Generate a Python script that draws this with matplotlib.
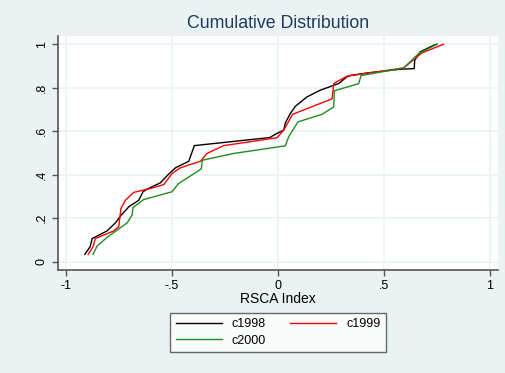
import matplotlib.pyplot as plt

# Cumulative distribution of the RSCA index
x1998 = [-0.912, -0.887, -0.877, -0.854, -0.807, -0.767, -0.744, -0.704, -0.657, -0.637,
         -0.618, -0.555, -0.516, -0.484, -0.421, -0.395, -0.039, -0.005, 0.027, 0.035,
         0.058, 0.082, 0.137, 0.200, 0.286, 0.325, 0.340, 0.420, 0.577, 0.643, 0.645,
         0.671, 0.734, 0.750]
y1998 = [0.034, 0.069, 0.107, 0.118, 0.142, 0.179, 0.210, 0.253, 0.283, 0.322,
         0.334, 0.363, 0.403, 0.432, 0.462, 0.534, 0.571, 0.590, 0.605, 0.639,
         0.681, 0.715, 0.758, 0.789, 0.819, 0.850, 0.856, 0.868, 0.885, 0.888, 0.926,
         0.965, 0.995, 1.000]

x1999 = [-0.896, -0.873, -0.862, -0.775, -0.752, -0.741, -0.720, -0.681, -0.602, -0.539,
         -0.500, -0.461, -0.366, -0.335, -0.256, -0.005, 0.027, 0.069, 0.255, 0.263,
         0.325, 0.593, 0.679, 0.781]
y1999 = [0.034, 0.069, 0.107, 0.142, 0.161, 0.245, 0.283, 0.319, 0.337, 0.355,
         0.406, 0.432, 0.462, 0.498, 0.534, 0.570, 0.605, 0.678, 0.749, 0.819,
         0.853, 0.891, 0.960, 1.000]

x2000 = [-0.873, -0.854, -0.807, -0.712, -0.689, -0.684, -0.634, -0.500, -0.469, -0.414,
         -0.362, -0.357, -0.209, 0.035, 0.050, 0.094, 0.208, 0.263, 0.266, 0.381,
         0.392, 0.593, 0.664, 0.750]
y2000 = [0.034, 0.072, 0.112, 0.179, 0.214, 0.250, 0.286, 0.322, 0.360, 0.394,
         0.427, 0.467, 0.498, 0.533, 0.574, 0.643, 0.678, 0.712, 0.786, 0.819,
         0.856, 0.891, 0.957, 1.000]

xticks = [-1, -0.5, 0, 0.5, 1]
xlabels = ['-1', '-.5', '0', '.5', '1']
yticks = [0, 0.2, 0.4, 0.6, 0.8, 1]
ylabels = ['0', '.2', '.4', '.6', '.8', '1']

bg = '#eaf2f3'
axc = '#555555'

plt.rcParams['font.family'] = 'Liberation Sans'

fig = plt.figure(figsize=(5.05, 3.73), dpi=100, facecolor=bg)
ax = fig.add_axes([0.115, 0.276, 0.871, 0.627])
ax.set_facecolor('white')

l1, = ax.plot(x1998, y1998, color='black', lw=1.0, label='c1998')
l2, = ax.plot(x1999, y1999, color='red', lw=1.0, label='c1999')
l3, = ax.plot(x2000, y2000, color='#1f8c1f', lw=1.0, label='c2000')

ax.set_xlim(-1.038, 1.038)
ax.set_ylim(-0.038, 1.037)
ax.set_xticks(xticks, xlabels)
ax.set_yticks(yticks, ylabels)
ax.tick_params(axis='y', labelrotation=90)
for lab in ax.get_yticklabels():
    lab.set_va('center')
ax.tick_params(colors=axc, labelcolor='black', labelsize=9, length=4, width=1)
ax.grid(True, color=bg, lw=1.2)
ax.set_axisbelow(True)
for s in ['top', 'right']:
    ax.spines[s].set_visible(False)
for s in ['left', 'bottom']:
    ax.spines[s].set_color(axc)
    ax.spines[s].set_linewidth(1.2)

ax.set_xlabel('RSCA Index', fontsize=10, labelpad=0)
ax.set_title('Cumulative Distribution', fontsize=12.8, color='#1e3a5c', pad=6)

leg = fig.legend([l1, l3, l2], ['c1998', 'c2000', 'c1999'], ncol=2,
                 loc='center', bbox_to_anchor=(278 / 505, 1 - 332.5 / 373),
                 fontsize=9, frameon=True, fancybox=False, edgecolor='#444444',
                 handlelength=3.7, columnspacing=1.9, borderpad=0.45,
                 labelspacing=0.35)
leg.get_frame().set_linewidth(1.0)

fig.savefig('out.png', dpi=100, facecolor=bg)
